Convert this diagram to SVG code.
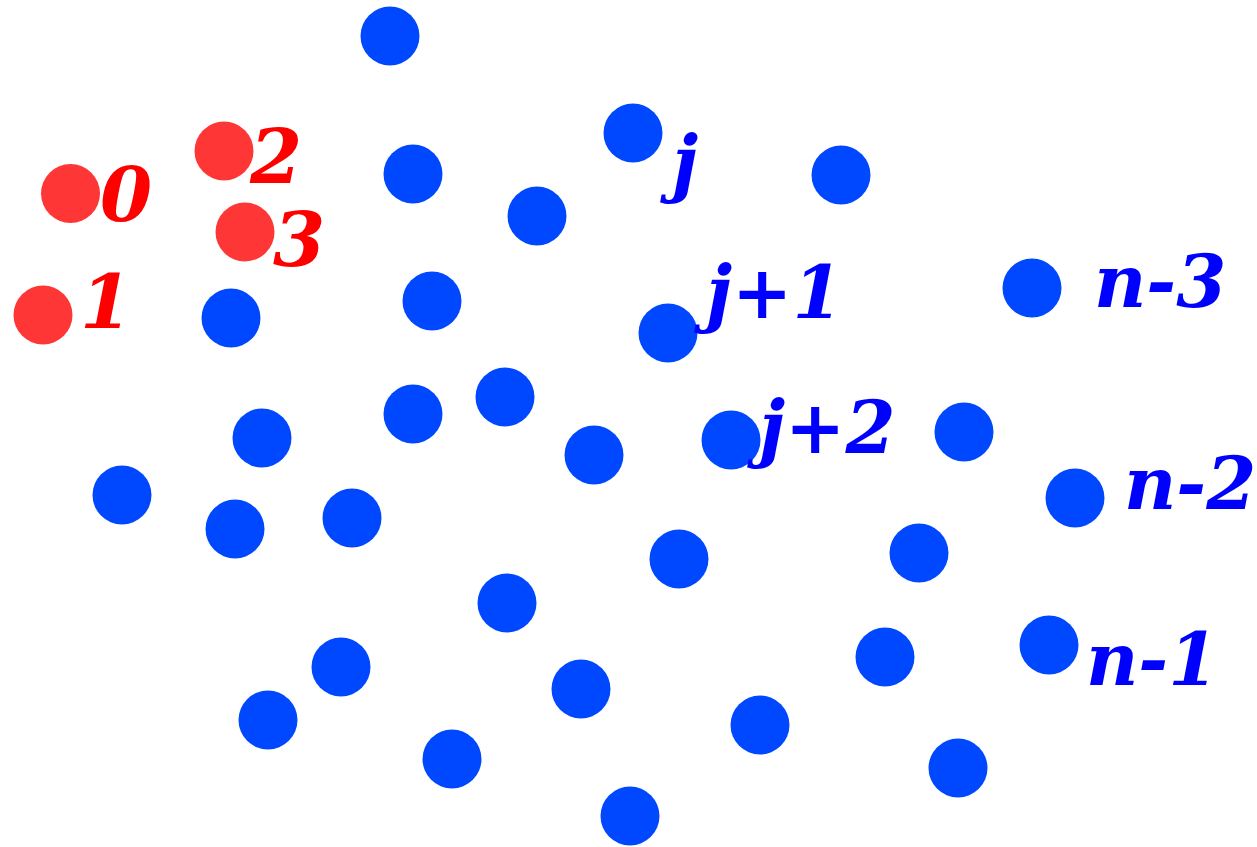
<svg xmlns="http://www.w3.org/2000/svg" width="1257" height="847" viewBox="0 0 1257 847">
<style>
.r{fill:#ff3636}
.b{fill:#0048ff}
text{font-family:"DejaVu Serif",serif;font-weight:bold;font-style:italic;font-size:72px}
.rt{fill:#ff0000;font-size:75px}
.bt{fill:#0000ff}
</style>
<rect width="1257" height="847" fill="#fff"/>
<g id="connectors"></g>
<g id="red-nodes">
<g id="n0"><circle class="r" cx="70.5" cy="193.5" r="29.5"/><text class="rt" x="100" y="221">0</text></g>
<g id="n2"><circle class="r" cx="224" cy="151" r="29.5"/><text class="rt" x="250" y="183">2</text></g>
<g id="n3"><circle class="r" cx="245" cy="232" r="29.5"/><text class="rt" x="273" y="266">3</text></g>
<g id="n1"><circle class="r" cx="43" cy="315" r="29.5"/><text class="rt" x="80" y="328">1</text></g>
</g>
<g id="blue-nodes">
<g id="b1"><circle class="b" cx="390" cy="36" r="29.5"/></g>
<g id="nj"><circle class="b" cx="633" cy="133" r="29.5"/><text class="bt" x="672" y="188">j</text></g>
<g id="b3"><circle class="b" cx="413" cy="174" r="29.5"/></g>
<g id="b4"><circle class="b" cx="537" cy="216" r="29.5"/></g>
<g id="b5"><circle class="b" cx="841" cy="175" r="29.5"/></g>
<g id="nn3"><circle class="b" cx="1032" cy="288" r="29.5"/><text class="bt" x="1094" y="307">n-3</text></g>
<g id="b7"><circle class="b" cx="432" cy="301" r="29.5"/></g>
<g id="b8"><circle class="b" cx="231" cy="318" r="29.5"/></g>
<g id="nj1"><circle class="b" cx="668" cy="333" r="29.5"/><text class="bt" x="706" y="318">j+1</text></g>
<g id="b10"><circle class="b" cx="413" cy="414" r="29.5"/></g>
<g id="b11"><circle class="b" cx="505" cy="397" r="29.5"/></g>
<g id="b12"><circle class="b" cx="262" cy="438" r="29.5"/></g>
<g id="b13"><circle class="b" cx="594" cy="455" r="29.5"/></g>
<g id="nj2"><circle class="b" cx="731" cy="440" r="29.5"/><text class="bt" x="759" y="453">j+2</text></g>
<g id="b15"><circle class="b" cx="964" cy="432" r="29.5"/></g>
<g id="b16"><circle class="b" cx="122" cy="495" r="29.5"/></g>
<g id="b17"><circle class="b" cx="235" cy="529" r="29.5"/></g>
<g id="b18"><circle class="b" cx="352" cy="518" r="29.5"/></g>
<g id="nn2"><circle class="b" cx="1075" cy="498" r="29.5"/><text class="bt" x="1124" y="509">n-2</text></g>
<g id="b20"><circle class="b" cx="679" cy="559" r="29.5"/></g>
<g id="b21"><circle class="b" cx="919" cy="553" r="29.5"/></g>
<g id="b22"><circle class="b" cx="507" cy="603" r="29.5"/></g>
<g id="nn1"><circle class="b" cx="1049" cy="645" r="29.5"/><text class="bt" x="1086" y="685">n-1</text></g>
<g id="b24"><circle class="b" cx="341" cy="667" r="29.5"/></g>
<g id="b25"><circle class="b" cx="885" cy="657" r="29.5"/></g>
<g id="b26"><circle class="b" cx="581" cy="689" r="29.5"/></g>
<g id="b27"><circle class="b" cx="268" cy="720" r="29.5"/></g>
<g id="b28"><circle class="b" cx="760" cy="725" r="29.5"/></g>
<g id="b29"><circle class="b" cx="452" cy="759" r="29.5"/></g>
<g id="b30"><circle class="b" cx="958" cy="768" r="29.5"/></g>
<g id="b31"><circle class="b" cx="630" cy="816" r="29.5"/></g>
</g>
</svg>
